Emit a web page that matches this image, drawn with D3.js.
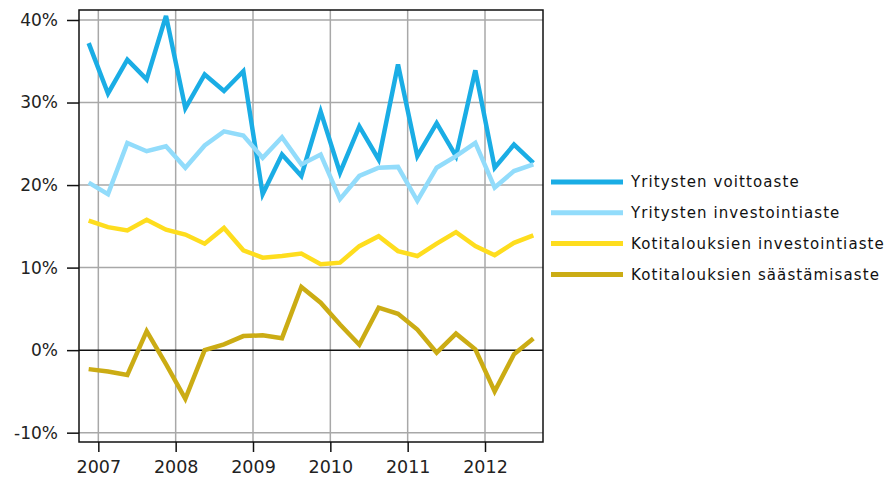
<!DOCTYPE html>
<html>
<head>
<meta charset="utf-8">
<script src="https://cdn.jsdelivr.net/npm/d3@7"></script>
<style>
  body { margin: 0; background: #fff; }
  svg { display: block; font-family: "DejaVu Sans", Verdana, sans-serif; }
</style>
</head>
<body>
<svg width="893" height="487"></svg>
<script>
// quarterly series, 2006Q4 .. 2012Q3
var quarters = ["2006Q4",
  "2007Q1","2007Q2","2007Q3","2007Q4",
  "2008Q1","2008Q2","2008Q3","2008Q4",
  "2009Q1","2009Q2","2009Q3","2009Q4",
  "2010Q1","2010Q2","2010Q3","2010Q4",
  "2011Q1","2011Q2","2011Q3","2011Q4",
  "2012Q1","2012Q2","2012Q3"];

var voittoaste = [37.2, 31.1, 35.2, 32.8, 40.5, 29.3, 33.4, 31.4, 33.8, 18.9, 23.7, 21.1,
                  28.9, 21.5, 27.1, 23.1, 34.6, 23.5, 27.5, 23.5, 33.9, 22.1, 24.9, 22.7];
var yritysInvest = [20.3, 18.9, 25.1, 24.1, 24.7, 22.1, 24.8, 26.5, 26.0, 23.3, 25.8, 22.5,
                    23.7, 18.3, 21.1, 22.1, 22.2, 18.1, 22.1, 23.5, 25.1, 19.7, 21.7, 22.5];
var kotiInvest = [15.7, 14.9, 14.5, 15.8, 14.6, 14.0, 12.9, 14.8, 12.1, 11.2, 11.4, 11.7,
                  10.4, 10.6, 12.6, 13.8, 12.0, 11.4, 12.9, 14.3, 12.6, 11.5, 13.0, 13.9];
var saastamisaste = [-2.3, -2.6, -3.0, 2.3, -1.7, -5.9, 0.0, 0.7, 1.7, 1.8, 1.45, 7.65,
                     5.75, 3.1, 0.65, 5.15, 4.4, 2.5, -0.3, 2.0, 0.1, -5.0, -0.5, 1.4];

var seriesNames = ["Yritysten voittoaste", "Yritysten investointiaste",
                   "Kotitalouksien investointiaste", "Kotitalouksien säästämisaste"];
var seriesValues = [voittoaste, yritysInvest, kotiInvest, saastamisaste];
var colors = ["#1aade5", "#92dcfb", "#fedd1e", "#cbac14"];

var yTicks = [-10, 0, 10, 20, 30, 40];
var yearTicks = [2007, 2008, 2009, 2010, 2011, 2012];

var svg = d3.select("svg");
var frame = {left: 79, right: 543, top: 10, bottom: 442};

// quarter label -> middle of the quarter as decimal year
function qTime(q) {
  return +q.slice(0, 4) + (+q.slice(5) - 0.5) / 4;
}

var x = d3.scaleLinear().domain([2006.75, 2012.75]).range([frame.left, frame.right]);
var y = d3.scaleLinear().domain([-11.13, 41.21]).range([frame.bottom, frame.top]);

// grid
var grid = svg.append("g");
grid.selectAll("line.h").data(yTicks.filter(function(d){ return d !== 0; })).enter().append("line")
  .attr("x1", frame.left).attr("x2", frame.right)
  .attr("y1", function(d){ return y(d); }).attr("y2", function(d){ return y(d); })
  .attr("stroke", "#a8a8a8").attr("stroke-width", 1.5);
grid.selectAll("line.v").data(yearTicks).enter().append("line")
  .attr("x1", function(d){ return x(d); }).attr("x2", function(d){ return x(d); })
  .attr("y1", frame.top).attr("y2", frame.bottom)
  .attr("stroke", "#a8a8a8").attr("stroke-width", 1.5);

// zero line
svg.append("line")
  .attr("x1", frame.left).attr("x2", frame.right)
  .attr("y1", y(0)).attr("y2", y(0))
  .attr("stroke", "#111").attr("stroke-width", 1.5);

// axes
var yAxis = d3.axisLeft(y).tickValues(yTicks).tickSize(12).tickPadding(9)
  .tickFormat(function(d){ return d + "%"; });
var gY = svg.append("g").attr("transform", "translate(" + frame.left + ",0)").call(yAxis);
gY.select(".domain").remove();

var xAxis = d3.axisBottom(x).tickValues(yearTicks).tickSize(10).tickPadding(9)
  .tickFormat(d3.format("d"));
var gX = svg.append("g").attr("transform", "translate(0," + frame.bottom + ")").call(xAxis);
gX.select(".domain").remove();

svg.selectAll(".tick line").attr("stroke", "#111").attr("stroke-width", 1.5);
svg.selectAll(".tick text").attr("font-size", 17).attr("fill", "#222")
  .attr("font-family", "DejaVu Sans, sans-serif");
gX.selectAll(".tick text").attr("font-size", 17.5);

// frame
svg.append("rect")
  .attr("x", frame.left).attr("y", frame.top)
  .attr("width", frame.right - frame.left).attr("height", frame.bottom - frame.top)
  .attr("fill", "none").attr("stroke", "#111").attr("stroke-width", 1.5);

// lines
var line = d3.line()
  .x(function(d, i){ return x(qTime(quarters[i])); })
  .y(function(d){ return y(d); });

svg.append("g").selectAll("path").data(seriesValues).enter().append("path")
  .attr("d", line)
  .attr("fill", "none")
  .attr("stroke", function(d, i){ return colors[i]; })
  .attr("stroke-width", 4.5)
  .attr("stroke-linejoin", "miter");

// legend
var legend = svg.append("g").attr("transform", "translate(551,182)");
var items = legend.selectAll("g").data(seriesNames).enter().append("g")
  .attr("transform", function(d, i){ return "translate(0," + (i * 30.8) + ")"; });
items.append("line")
  .attr("x1", 0).attr("x2", 72)
  .attr("stroke", function(d, i){ return colors[i]; })
  .attr("stroke-width", 5);
items.append("text")
  .attr("x", 80).attr("dy", "0.35em")
  .attr("font-size", 15).attr("letter-spacing", 1.1).attr("fill", "#111")
  .text(function(d){ return d; });
</script>
</body>
</html>
